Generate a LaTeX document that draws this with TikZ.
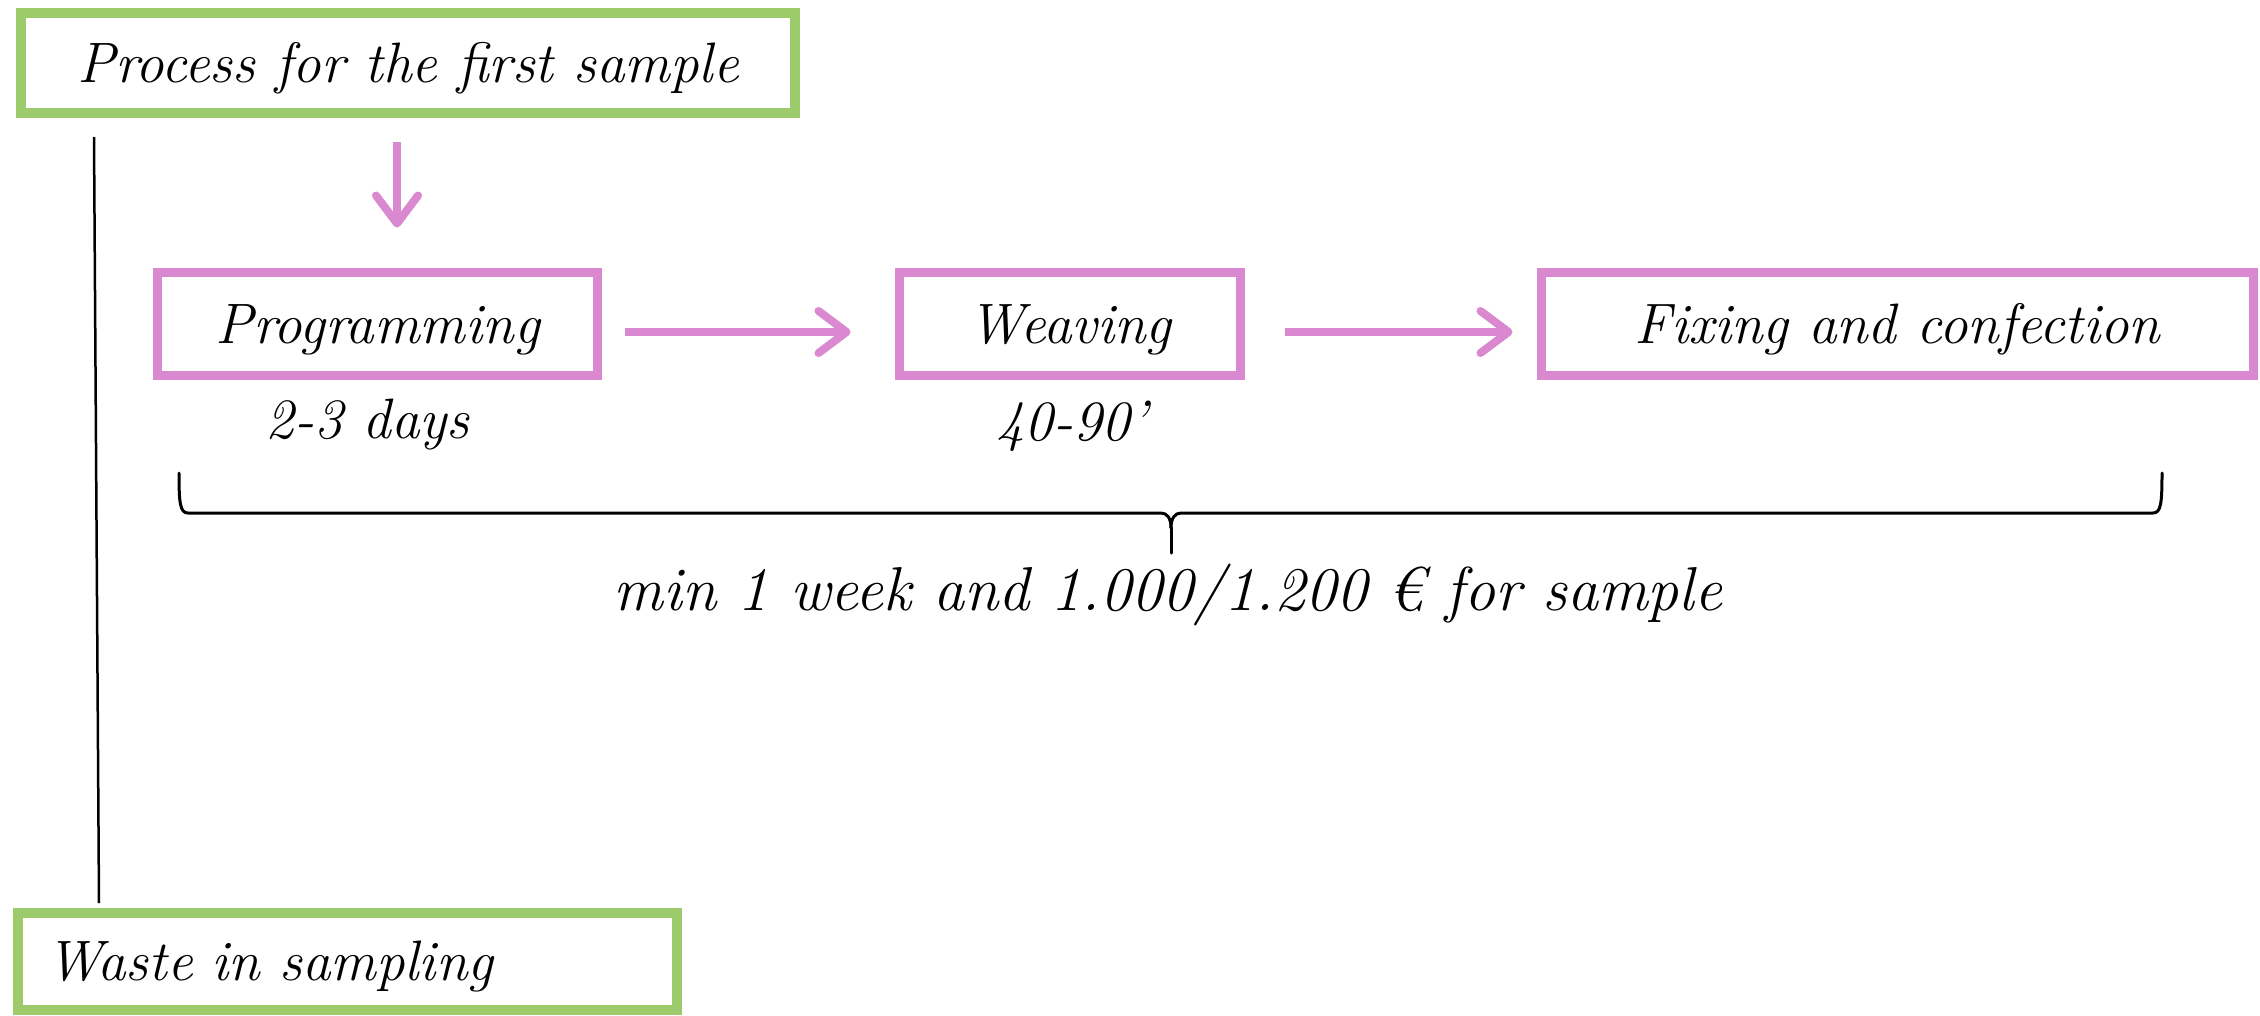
\documentclass[tikz,border=0pt]{standalone}
\usepackage{fontspec}
\usetikzlibrary{arrows.meta}
\definecolor{boxgreen}{RGB}{157,202,106}
\definecolor{boxpink}{RGB}{218,136,208}
\tikzset{
  lbl/.style={font=\fontsize{57}{68}\selectfont\itshape, text=black},
  greenbox/.style={draw=boxgreen, line width=10pt, fill=white, rectangle, inner sep=0pt,
    text height=38pt, text depth=0pt, lbl},
  pinkbox/.style={draw=boxpink, line width=9pt, fill=white, rectangle, inner sep=0pt,
    minimum height=103pt, text height=38pt, text depth=0pt, lbl},
  parrow/.style={draw=boxpink, line width=8pt,
    -{Straight Barb[length=28pt,width=42pt,round]}},
  thinpen/.style={draw=black, line width=2.5pt},
  bracepen/.style={draw=black, line width=3pt, line join=round, line cap=round},
}
\begin{document}
\begin{tikzpicture}[x=1pt,y=-1pt]
\useasboundingbox (0,0) rectangle (2260,1015);
\fill[white] (0,0) rectangle (2260,1015);

% boxes
\node[greenbox, minimum width=774pt, minimum height=100pt] (top) at (408,63) {Process for the first sample};
\node[pinkbox, minimum width=440pt] (prog) at (377.5,324) {Programming};
\node[pinkbox, minimum width=341pt] (weav) at (1070,324) {Weaving};
\node[pinkbox, minimum width=712pt] (fix) at (1897.5,324) {Fixing and confection};
\node[greenbox, minimum height=97pt, inner xsep=28pt, text width=603pt, align=left] (waste) at (347.5,961.5) {Waste in sampling};

% labels under boxes
\node[lbl, anchor=base, inner sep=0pt] (days) at (367.5,438) {2-3 days};
\node[lbl, anchor=base, inner sep=0pt] (mins) at (1072,440) {40-90'};
\node[lbl, font=\fontsize{62}{72}\selectfont\itshape, anchor=base, inner sep=0pt] (cost) at (1168,610) {min 1 week and 1.000/1.200 € for sample};

% arrows
\draw[parrow] ([xshift=-11pt,yshift=-24pt]top.south) -- ([xshift=19.5pt,yshift=40.5pt]prog.north);
\draw[parrow, shorten <=22.5pt, shorten >=44.5pt] ([yshift=-8pt]prog.east) -- ([yshift=-8pt]weav.west);
\draw[parrow, shorten <=39.5pt, shorten >=24.5pt] ([yshift=-8pt]weav.east) -- ([yshift=-8pt]fix.west);

% vertical connector
\draw[thinpen] ([xshift=78pt,yshift=-19pt]top.south west) -- ([xshift=-248.5pt,yshift=5pt]waste.north);

% brace
\coordinate (braceL) at (179,473);
\coordinate (braceR) at (2162,473);
\coordinate (braceJ) at (1171,528);
\coordinate (braceTip) at (1171,553);
\draw[bracepen] (braceL) .. controls (179,503) and (180,513) .. (188,513) -- (1161,513)
  .. controls (1167,513) and (1171,518) .. (braceJ);
\draw[bracepen] (braceR) .. controls (2162,503) and (2161,513) .. (2153,513) -- (1181,513)
  .. controls (1175,513) and (1171,518) .. (braceJ);
\draw[bracepen] (braceJ) -- (braceTip);
\end{tikzpicture}
\end{document}
